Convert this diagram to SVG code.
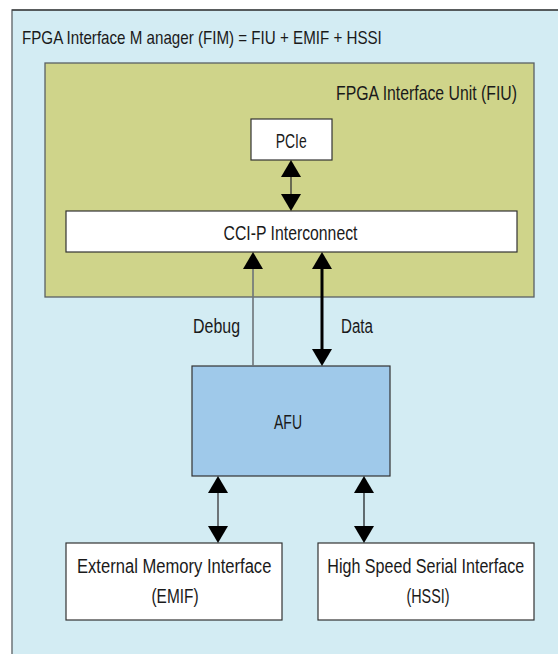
<svg xmlns="http://www.w3.org/2000/svg" width="558" height="654" viewBox="0 0 558 654">
<defs>
<style>
text{font-family:"Liberation Sans",Arial,sans-serif;fill:#1a1a1a;font-size:21px;}
.title{font-size:17.5px;}
.box{fill:#fff;stroke:#333;stroke-width:1.2;}
.c{text-anchor:middle;}
.e{text-anchor:end;}
</style>
<marker id="ah" viewBox="0 0 17 20" refX="0" refY="10" markerWidth="17" markerHeight="20" markerUnits="userSpaceOnUse" orient="auto-start-reverse">
<path d="M0,0 L17,10 L0,20 Z" fill="#000"/>
</marker>
</defs>
<rect width="558" height="654" fill="#fff"/>
<g id="fim">
<rect x="12" y="10" width="560" height="660" fill="#d3ecf3" stroke="#6d7478" stroke-width="1.5"/>
<line x1="12" y1="10" x2="558" y2="10" stroke="#222" stroke-width="1.2"/>
<text class="title" transform="translate(22,44) scale(0.866,1)">FPGA Interface M anager (FIM) = FIU + EMIF + HSSI</text>
</g>
<g id="fiu">
<rect x="45" y="63" width="489" height="234" fill="#cfd48a" stroke="#5a6064" stroke-width="1.3"/>
<text class="e" transform="translate(517,100) scale(0.753,1)">FPGA Interface Unit (FIU)</text>
</g>
<g id="pcie">
<rect class="box" x="251" y="119" width="81" height="41"/>
<text class="c" transform="translate(291.2,148) scale(0.664,1)">PCIe</text>
</g>
<g id="ccip">
<rect class="box" x="66" y="211" width="451" height="41"/>
<text class="c" transform="translate(290.5,240) scale(0.752,1)">CCI-P Interconnect</text>
</g>
<g id="afu">
<rect x="192" y="366" width="198" height="110" fill="#9fc9ea" stroke="#333" stroke-width="1.2"/>
<text class="c" transform="translate(288,429) scale(0.667,1)">AFU</text>
</g>
<g id="emif">
<rect class="box" x="66" y="543" width="216" height="77"/>
<text class="c" transform="translate(174.2,573) scale(0.79,1)">External Memory Interface</text>
<text class="c" transform="translate(175,603) scale(0.733,1)">(EMIF)</text>
</g>
<g id="hssi">
<rect class="box" x="318" y="543" width="216" height="77"/>
<text class="c" transform="translate(425.7,573) scale(0.767,1)">High Speed Serial Interface</text>
<text class="c" transform="translate(428,603) scale(0.683,1)">(HSSI)</text>
</g>
<g id="connectors">
<line x1="291" y1="177" x2="291" y2="194" stroke="#333" stroke-width="1.3" marker-start="url(#ah)" marker-end="url(#ah)"/>
<line x1="253" y1="366" x2="253" y2="269" stroke="#6d7478" stroke-width="1.6" marker-end="url(#ah)"/>
<line x1="322" y1="269" x2="322" y2="349" stroke="#000" stroke-width="3" marker-start="url(#ah)" marker-end="url(#ah)"/>
<line x1="218" y1="493" x2="218" y2="526" stroke="#6d7478" stroke-width="2" marker-start="url(#ah)" marker-end="url(#ah)"/>
<line x1="364" y1="493" x2="364" y2="526" stroke="#000" stroke-width="1.1" marker-start="url(#ah)" marker-end="url(#ah)"/>
<text transform="translate(193,333) scale(0.76,1)">Debug</text>
<text transform="translate(341,333) scale(0.72,1)">Data</text>
</g>
</svg>
